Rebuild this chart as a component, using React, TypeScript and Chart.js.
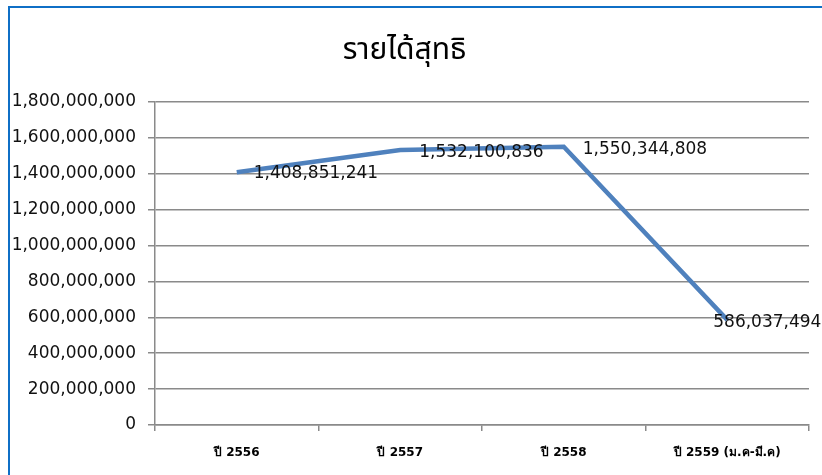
import React, { useEffect, useRef } from "react";
import { Chart, registerables } from "chart.js";

Chart.register(...registerables);

const titleText = "รายได้สุทธิ";
const categories = ["ปี 2556", "ปี 2557", "ปี 2558", "ปี 2559 (ม.ค-มี.ค)"];
const netIncome = [1408851241, 1532100836, 1550344808, 586037494];
const yTickValues = [0, 200000000, 400000000, 600000000, 800000000, 1000000000, 1200000000, 1400000000, 1600000000, 1800000000];

const labelOffsets: [number, number][] = [
  [17, 1],
  [19, 3],
  [19, 3],
  [-14, 3],
];

const fmt = (v: number) => v.toLocaleString("en-US");

const dataLabelPlugin = {
  id: "dataLabels",
  afterDatasetsDraw(chart: any) {
    const ctx = chart.ctx;
    const meta = chart.getDatasetMeta(0);
    ctx.save();
    ctx.font = '17px "DejaVu Sans", sans-serif';
    ctx.fillStyle = "#111";
    ctx.textBaseline = "middle";
    ctx.textAlign = "left";
    meta.data.forEach((pt: any, i: number) => {
      const [dx, dy] = labelOffsets[i];
      ctx.fillText(fmt(netIncome[i]), pt.x + dx, pt.y + dy);
    });
    ctx.restore();
  },
};

export default function App() {
  const ref = useRef<HTMLCanvasElement>(null);

  useEffect(() => {
    if (!ref.current) return;
    const chart = new Chart(ref.current, {
      type: "line",
      data: {
        labels: categories,
        datasets: [
          {
            data: netIncome,
            borderColor: "#4f81bd",
            borderWidth: 4.5,
            pointRadius: 0,
            tension: 0,
            fill: false,
            borderJoinStyle: "miter",
          },
        ],
      },
      options: {
        animation: false,
        responsive: false,
        devicePixelRatio: 1,
        layout: { padding: { left: 0, right: 13, top: 0, bottom: 0 } },
        plugins: {
          legend: { display: false },
          tooltip: { enabled: false },
          title: {
            display: true,
            text: titleText,
            color: "#000",
            font: { size: 30, family: '"Noto Sans Thai", Tahoma, "DejaVu Sans", sans-serif', weight: "normal", lineHeight: 1.2 },
            padding: { top: 35, bottom: 31 },
          },
        },
        scales: {
          x: {
            type: "category",
            offset: true,
            grid: {
              offset: true,
              drawOnChartArea: false,
              drawTicks: true,
              tickLength: 6,
              color: "#8a8a8a",
              lineWidth: 1.5,
            },
            border: { color: "#8a8a8a", width: 1.5 },
            ticks: {
              color: "#000",
              padding: 15,
              maxRotation: 0,
              autoSkip: false,
              font: { size: 12, weight: "bold", family: 'Tahoma, "DejaVu Sans", sans-serif' },
            },
            afterFit: (scale: any) => {
              scale.height = 50;
            },
          },
          y: {
            min: 0,
            max: 1800000000,
            grid: {
              color: "#8a8a8a",
              lineWidth: 1.5,
              tickLength: 7,
              drawTicks: true,
            },
            border: { color: "#8a8a8a", width: 1.5 },
            ticks: {
              color: "#111",
              padding: 12,
              font: { size: 17, family: '"DejaVu Sans", sans-serif' },
              callback: (v: any) => fmt(Number(v)),
            },
            afterBuildTicks: (scale: any) => {
              scale.ticks = yTickValues.map((v) => ({ value: v }));
            },
            afterFit: (scale: any) => {
              scale.width = 155;
            },
          },
        },
      },
      plugins: [dataLabelPlugin],
    } as any);
    return () => chart.destroy();
  }, []);

  return (
    <div style={{ position: "fixed", left: 0, top: 0, width: 822, height: 475, background: "#fff", overflow: "hidden" }}>
      <canvas ref={ref} width={822} height={475} style={{ display: "block" }} />
      <div
        style={{
          position: "absolute",
          left: 8,
          top: 6,
          width: 830,
          height: 480,
          borderLeft: "2px solid #0f6fc6",
          borderTop: "2px solid #0f6fc6",
          pointerEvents: "none",
        }}
      />
    </div>
  );
}
